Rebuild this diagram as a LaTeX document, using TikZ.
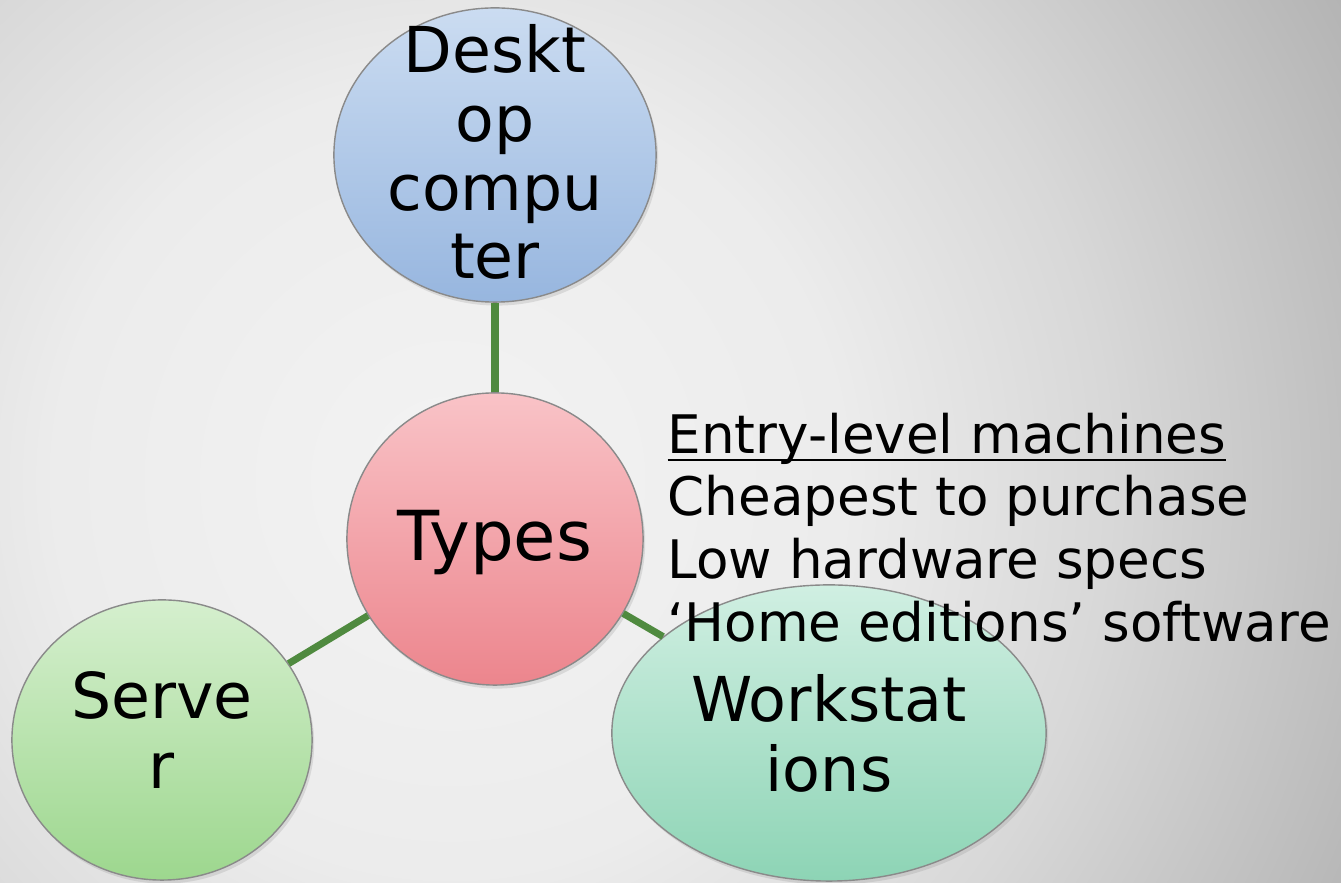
\documentclass[tikz,border=0pt]{standalone}
\usepackage{fontspec}
\setmainfont{DejaVu Sans}
\usetikzlibrary{shapes.geometric,shadows}

\definecolor{deskTop}{HTML}{CBDCF1}
\definecolor{deskBot}{HTML}{97B6DF}
\definecolor{typeTop}{HTML}{F9C3C7}
\definecolor{typeBot}{HTML}{EC858D}
\definecolor{servTop}{HTML}{D5EFCE}
\definecolor{servBot}{HTML}{9DD78E}
\definecolor{workTop}{HTML}{D0EFE2}
\definecolor{workBot}{HTML}{8DD4B5}
\definecolor{linkGreen}{HTML}{4F8A3F}
\definecolor{rimGray}{HTML}{8A8A8A}
\definecolor{bgA}{gray}{0.953}
\definecolor{bgB}{gray}{0.925}
\definecolor{bgC}{gray}{0.847}
\definecolor{bgD}{gray}{0.706}
\definecolor{bgE}{gray}{0.686}

\pgfdeclareradialshading{bgglow}{\pgfpoint{0bp}{0bp}}{color(0bp)=(bgA); color(9bp)=(bgB); color(15bp)=(bgC); color(23bp)=(bgD); color(25bp)=(bgE); color(50bp)=(bgE)}

\newsavebox\ulbox
\newcommand\ulinetext[1]{\sbox\ulbox{#1}\rlap{\rule[-2.3pt]{\wd\ulbox}{0.6pt}}\usebox\ulbox}

\begin{document}
\begin{tikzpicture}[x=0.01cm, y=-0.01cm,
  bubble/.style={ellipse, draw=rimGray, line width=0.4pt, inner sep=0pt,
    drop shadow={opacity=0.2, shadow xshift=0.6pt, shadow yshift=-1pt}},
  link/.style={draw=linkGreen, line width=2pt},
  tag/.style={align=center, inner sep=0pt, font=\fontsize{18pt}{19.6pt}\selectfont}]
\useasboundingbox (0,0) rectangle (1341,883);
\begin{scope}
\clip (0,0) rectangle (1341,883);
\shade[shading=bgglow] (450,480) circle (1100);
\end{scope}
\node[bubble, minimum width=3.22cm, minimum height=2.94cm, top color=deskTop, bottom color=deskBot,
  label={[tag, yshift=0.03cm]center:Deskt\\op\\compu\\ter}] (desk) at (495,155) {};
\node[bubble, minimum width=2.96cm, minimum height=2.92cm, top color=typeTop, bottom color=typeBot,
  label={[tag, font=\fontsize{19.6pt}{21pt}\selectfont, yshift=-0.04cm]center:Types}] (types) at (495,539) {};
\node[bubble, minimum width=3.00cm, minimum height=2.80cm, top color=servTop, bottom color=servBot,
  label={[tag, font=\fontsize{18pt}{20pt}\selectfont, yshift=0.1cm]center:Serve\\r}] (serv) at (162,740) {};
\node[bubble, minimum width=4.34cm, minimum height=2.96cm, top color=workTop, bottom color=workBot,
  label={[tag, font=\fontsize{17.6pt}{19.9pt}\selectfont]center:Workstat\\ions}] (work) at (829,733) {};
\draw[link] (types) -- (desk);
\draw[link] (types) -- (serv);
\draw[link] (types) -- (work);
\node[anchor=north west, inner sep=0pt, align=left, font=\fontsize{15.1pt}{17.9pt}\selectfont] (specs) at (667,412)
  {\ulinetext{Entry-level machines}\\Cheapest to purchase\\Low hardware specs\\‘Home editions’ software};
\end{tikzpicture}
\end{document}
